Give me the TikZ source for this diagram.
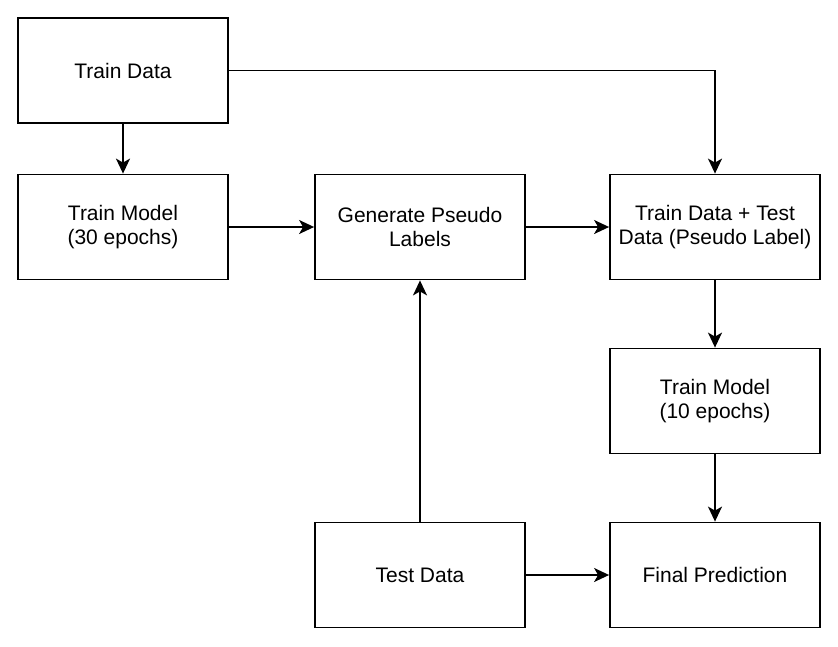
\documentclass[tikz,border=0pt]{standalone}
\usepackage{fontspec}
\setmainfont{Liberation Sans}
\usetikzlibrary{arrows.meta}
\begin{document}
\begin{tikzpicture}[x=1pt,y=-1pt,
  box/.style={draw=black,line width=1.8pt,fill=white,minimum width=210pt,minimum height=105pt,inner sep=0pt,align=center,font=\fontsize{21}{24}\selectfont},
  conn/.style={line width=1.8pt,-{Stealth[length=15pt,width=14pt,inset=4pt]}}]
\useasboundingbox (0,0) rectangle (838,646);
\fill[white] (0,0) rectangle (838,646);
\node[box] (td) at (123,70.5) {Train Data};
\node[box] (tm30) at (123,227) {Train Model\\(30 epochs)};
\node[box] (gpl) at (420,227) {Generate Pseudo\\Labels};
\node[box] (tdtd) at (715,227) {Train Data + Test\\Data (Pseudo Label)};
\node[box] (tm10) at (715,401) {Train Model\\(10 epochs)};
\node[box] (test) at (420,575) {Test Data};
\node[box] (fp) at (715,575) {Final Prediction};
\draw[conn] (td) -- (tm30);
\draw[conn] (td.east) -| (tdtd.north);
\draw[conn] (tm30) -- (gpl);
\draw[conn] (gpl) -- (tdtd);
\draw[conn] (tdtd) -- (tm10);
\draw[conn] (tm10) -- (fp);
\draw[conn] (test) -- (gpl);
\draw[conn] (test) -- (fp);
\end{tikzpicture}
\end{document}
